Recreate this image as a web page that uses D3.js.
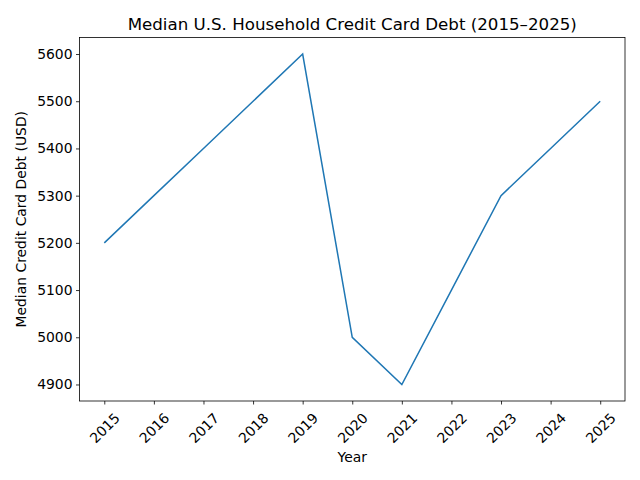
<!DOCTYPE html>
<html><head><meta charset="utf-8">
<script src="https://cdn.jsdelivr.net/npm/d3@7"></script>
<style>body{margin:0;background:#fff}svg{display:block}text{font-family:"DejaVu Sans",sans-serif;fill:#000}</style>
</head><body><svg id="c" width="640" height="480"></svg>
<script>
const years = [2015,2016,2017,2018,2019,2020,2021,2022,2023,2024,2025];
const debt = [5200,5300,5400,5500,5600,5000,4900,5100,5300,5400,5500];
const yTicks = [4900,5000,5100,5200,5300,5400,5500,5600];
const title = "Median U.S. Household Credit Card Debt (2015–2025)";
const xLabel = "Year";
const yLabel = "Median Credit Card Debt (USD)";

const svg = d3.select("#c");
const L=79.5, R=625, T=37.5, B=401;
const x = d3.scaleLinear().domain([2014.5,2025.5]).range([L,R]);
const y = d3.scaleLinear().domain([4865,5635]).range([B,T]);

const xAxis = svg.append("g").attr("transform",`translate(0,${B})`)
  .call(d3.axisBottom(x).tickValues(years).tickFormat(d3.format("d")).tickSize(3.5).tickPadding(3.5));
xAxis.selectAll("text").attr("font-size","13.9px").attr("text-anchor","middle")
  .attr("x",0).attr("y",0).attr("dy","0.35em")
  .attr("transform","translate(0,27) rotate(-45)");
const yAxis = svg.append("g").attr("transform",`translate(${L},0)`)
  .call(d3.axisLeft(y).tickValues(yTicks).tickFormat(d3.format("d")).tickSize(3.5).tickPadding(3.5));
yAxis.selectAll("text").attr("font-size","13.9px");
[xAxis,yAxis].forEach(g=>{g.select(".domain").remove();g.selectAll("line").attr("stroke","#000").attr("stroke-width",0.8);g.attr("font-family",null);});

svg.append("rect").attr("x",L).attr("y",T).attr("width",R-L).attr("height",B-T)
  .attr("fill","none").attr("stroke","#000").attr("stroke-width",0.8);

svg.append("path").datum(years.map((yr,i)=>[yr,debt[i]]))
  .attr("d",d3.line().x(d=>x(d[0])).y(d=>y(d[1])))
  .attr("fill","none").attr("stroke","#1f77b4").attr("stroke-width",1.5);

svg.append("text").attr("x",(L+R)/2).attr("y",T-8).attr("text-anchor","middle")
  .attr("font-size","16.67px").text(title);
svg.append("text").attr("x",(L+R)/2).attr("y",462).attr("text-anchor","middle")
  .attr("font-size","13.9px").text(xLabel);
svg.append("text").attr("transform",`translate(26,${(T+B)/2}) rotate(-90)`).attr("text-anchor","middle")
  .attr("font-size","13.9px").text(yLabel);
</script></body></html>
